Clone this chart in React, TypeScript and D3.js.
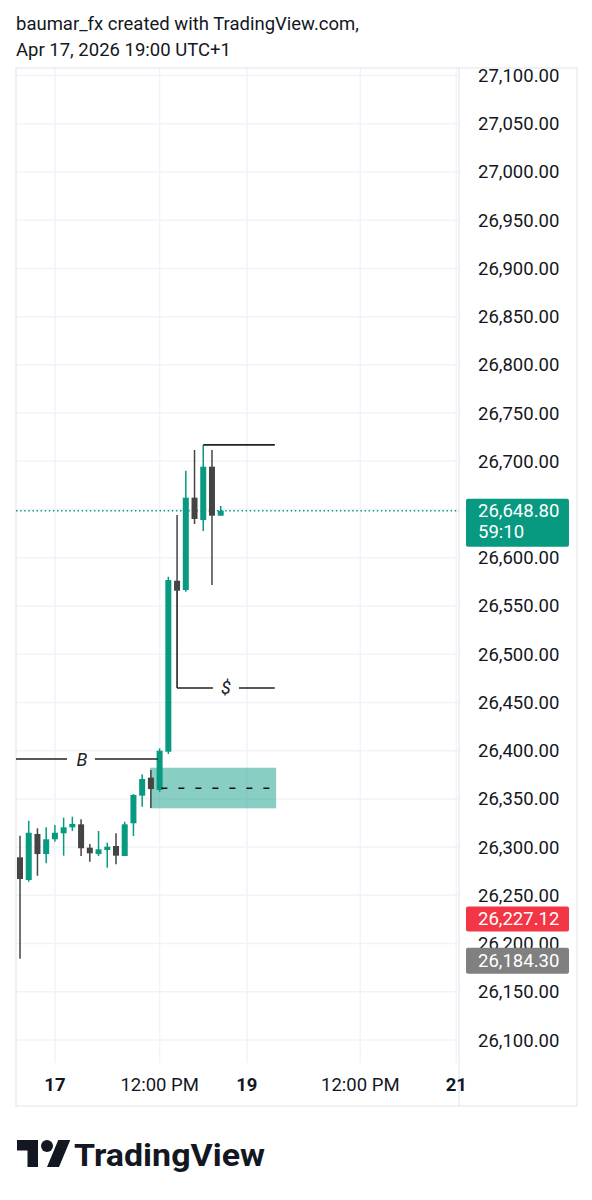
import React from 'react';
import * as d3 from 'd3';

// ---- Data (hourly candles, index 0 = first visible bar) ----
const opens = [26289.4, 26265.9, 26313.6, 26292.8, 26308.1, 26314.3, 26320.5, 26323.6, 26299.4, 26292.8, 26297.0, 26301.1, 26290.8, 26324.7, 26353.3, 26372.0, 26359.2, 26398.9, 26576.2, 26566.5, 26662.3, 26639.1, 26694.4, 26643.6];
const highs = [26311.8, 26327.4, 26319.5, 26320.5, 26322.9, 26330.5, 26331.5, 26328.8, 26303.2, 26316.7, 26304.6, 26314.3, 26326.3, 26355.0, 26375.5, 26379.9, 26402.4, 26580.3, 26644.3, 26690.3, 26711.7, 26716.9, 26711.7, 26653.7];
const lows = [26184.3, 26264.1, 26270.3, 26283.2, 26305.6, 26291.1, 26316.7, 26290.8, 26284.9, 26290.8, 26278.6, 26282.2, 26290.8, 26311.5, 26341.9, 26340.5, 26357.4, 26396.5, 26565.5, 26564.8, 26635.0, 26627.7, 26571.8, 26643.6];
const closes = [26266.9, 26314.9, 26292.8, 26308.1, 26314.9, 26320.5, 26324.0, 26298.8, 26293.6, 26297.7, 26300.4, 26291.1, 26323.6, 26354.0, 26370.6, 26360.2, 26399.9, 26576.9, 26565.8, 26662.3, 26640.2, 26694.4, 26643.6, 26648.8];

const priceTicks = [27100, 27050, 27000, 26950, 26900, 26850, 26800, 26750, 26700, 26650, 26600, 26550, 26500, 26450, 26400, 26350, 26300, 26250, 26200, 26150, 26100];
const timeTickIndex = [4, 16, 26, 39, 50];
const timeTickLabels = ['17', '12:00 PM', '19', '12:00 PM', '21'];
const timeTickBold = [true, false, true, false, true];

const lastPrice = 26648.8;
const countdown = '59:10';
const redMarker = 26227.12;
const grayMarker = 26184.3;

// annotations (price, bar index)
const highLine = { price: 26717, from: 21, to: 29.2 };
const bLine = { price: 26391.3, from: -0.6, to: 15.8, label: 'B', labelAt: 7.1 };
const dollarLine = { price: 26465, topPrice: 26565.5, from: 18, to: 29.2, label: '$', labelAt: 23.6 };
const zone = { top: 26382.3, bottom: 26340.2, mid: 26361, from: 14.9, to: 29.35, dashFrom: 16.2 };

const GREEN = '#089981';
const DARK = '#444444';
const TEXT = '#131722';
const GRID = '#f0f3fa';
const BORDER = '#e0e3eb';
const FONT = 'Roboto, "Noto Sans", sans-serif';

export default function App() {
  const left = 16, right = 577, top = 68, bottom = 1106;
  const axisX = 459;
  const paneBottom = 1063;

  const x = d3.scaleLinear().domain([0, 23]).range([20, 220.7]);
  const y = d3.scaleLinear().domain([26100, 27100]).range([1040, 75.5]);
  const fmt = d3.format(',.2f');
  const bodyW = 6;
  const fs = 18.5;

  const candles = opens.map((o, i) => ({ o, h: highs[i], l: lows[i], c: closes[i], i }));

  return (
    <svg width={592} height={1200} style={{ position: 'absolute', left: 0, top: 0, background: '#fff' }} fontFamily={FONT}>
      <rect x={0} y={0} width={592} height={1200} fill="#fff" />
      {/* header */}
      <text x={16} y={30} fontSize={fs} fill={TEXT}>baumar_fx created with TradingView.com,</text>
      <text x={16} y={56} fontSize={fs} fill={TEXT}>Apr 17, 2026 19:00 UTC+1</text>

      <defs>
        <clipPath id="pane">
          <rect x={left} y={top} width={axisX - left} height={paneBottom - top} />
        </clipPath>
      </defs>

      {/* grid */}
      <g clipPath="url(#pane)">
        {priceTicks.map((p) => (
          <line key={'h' + p} x1={left} x2={axisX} y1={y(p)} y2={y(p)} stroke={GRID} strokeWidth={1.5} />
        ))}
        {timeTickIndex.map((ti) => (
          <line key={'v' + ti} x1={x(ti)} x2={x(ti)} y1={top} y2={paneBottom} stroke={GRID} strokeWidth={1.5} />
        ))}
      </g>

      {/* frame */}
      <rect x={left} y={top} width={right - left} height={bottom - top} fill="none" stroke={BORDER} strokeWidth={1} />
      <line x1={axisX} x2={axisX} y1={top} y2={bottom} stroke={BORDER} strokeWidth={1} />

      <g clipPath="url(#pane)">
        {/* zone */}
        <rect x={x(zone.from)} y={y(zone.top)} width={x(zone.to) - x(zone.from)} height={y(zone.bottom) - y(zone.top)} fill={GREEN} fillOpacity={0.48} />
        {/* last price dotted line */}
        <line x1={left} x2={axisX + 3} y1={y(lastPrice)} y2={y(lastPrice)} stroke={GREEN} strokeWidth={1.5} strokeDasharray="1.5 2.6" />

        {/* candles */}
        {candles.map((d) => {
          const col = d.c >= d.o ? GREEN : DARK;
          const cx = x(d.i);
          const yt = y(Math.max(d.o, d.c));
          const yb = y(Math.min(d.o, d.c));
          return (
            <g key={d.i}>
              <line x1={cx} x2={cx} y1={y(d.h)} y2={y(d.l)} stroke={col} strokeWidth={1.5} />
              <rect x={cx - bodyW / 2} y={yt} width={bodyW} height={Math.max(1.5, yb - yt)} fill={col} />
            </g>
          );
        })}

        {/* zone mid dashed */}
        <line x1={x(zone.dashFrom)} x2={x(zone.to)} y1={y(zone.mid)} y2={y(zone.mid)} stroke="#111" strokeWidth={1.6} strokeDasharray="6 11" />

        {/* high line */}
        <line x1={x(highLine.from)} x2={x(highLine.to)} y1={y(highLine.price)} y2={y(highLine.price)} stroke="#222" strokeWidth={1.6} />

        {/* B line */}
        <line x1={x(bLine.from)} x2={x(bLine.labelAt) - 15} y1={y(bLine.price)} y2={y(bLine.price)} stroke="#222" strokeWidth={1.6} />
        <line x1={x(bLine.labelAt) + 13} x2={x(bLine.to)} y1={y(bLine.price)} y2={y(bLine.price)} stroke="#222" strokeWidth={1.6} />
        <text x={x(bLine.labelAt)} y={y(bLine.price) + 6.5} fontSize={18} fontStyle="italic" textAnchor="middle" fill="#222">{bLine.label}</text>

        {/* $ line */}
        <line x1={x(dollarLine.from)} x2={x(dollarLine.from)} y1={y(dollarLine.topPrice)} y2={y(dollarLine.price)} stroke="#222" strokeWidth={1.6} />
        <line x1={x(dollarLine.from)} x2={x(dollarLine.labelAt) - 13} y1={y(dollarLine.price)} y2={y(dollarLine.price)} stroke="#222" strokeWidth={1.6} />
        <line x1={x(dollarLine.labelAt) + 13} x2={x(dollarLine.to)} y1={y(dollarLine.price)} y2={y(dollarLine.price)} stroke="#222" strokeWidth={1.6} />
        <text x={x(dollarLine.labelAt)} y={y(dollarLine.price) + 6.5} fontSize={18} fontStyle="italic" textAnchor="middle" fill="#222">{dollarLine.label}</text>
      </g>

      {/* price axis labels */}
      {priceTicks.map((p) => (
        <text key={'pl' + p} x={478} y={y(p) + 6.5} fontSize={fs} fill={TEXT}>{fmt(p)}</text>
      ))}

      {/* markers */}
      <rect x={466} y={y(lastPrice) - 12} width={103} height={48} rx={2} fill={GREEN} />
      <text x={478} y={y(lastPrice) + 6.5} fontSize={fs} fill="#fff">{fmt(lastPrice)}</text>
      <text x={478} y={y(lastPrice) + 27.5} fontSize={fs} fill="#fff">{countdown}</text>

      <rect x={466} y={y(redMarker) - 11} width={103} height={25} rx={2} fill="#f23645" />
      <text x={478} y={y(redMarker) + 8} fontSize={fs} fill="#fff">{fmt(redMarker)}</text>

      <rect x={466} y={y(grayMarker) - 11} width={103} height={26} rx={2} fill="#808080" />
      <text x={478} y={y(grayMarker) + 8.2} fontSize={fs} fill="#fff">{fmt(grayMarker)}</text>

      {/* time axis labels */}
      {timeTickIndex.map((ti, k) => (
        <text key={'tl' + ti} x={x(ti)} y={1091} fontSize={fs} textAnchor="middle" fontWeight={timeTickBold[k] ? 700 : 400} fill={TEXT}>{timeTickLabels[k]}</text>
      ))}

      {/* logo */}
      <g transform="translate(17,1134) scale(1.5)" fill="#131722">
        <path d="M14 22H7V11H0V4h14v18zM28 22h-8l7.5-18h8L28 22z" />
        <circle cx={20} cy={8} r={4} />
      </g>
      <text x={74} y={1166} fontSize={32} fontWeight={700} fill="#131722" textLength={191} lengthAdjust="spacingAndGlyphs">TradingView</text>
    </svg>
  );
}
